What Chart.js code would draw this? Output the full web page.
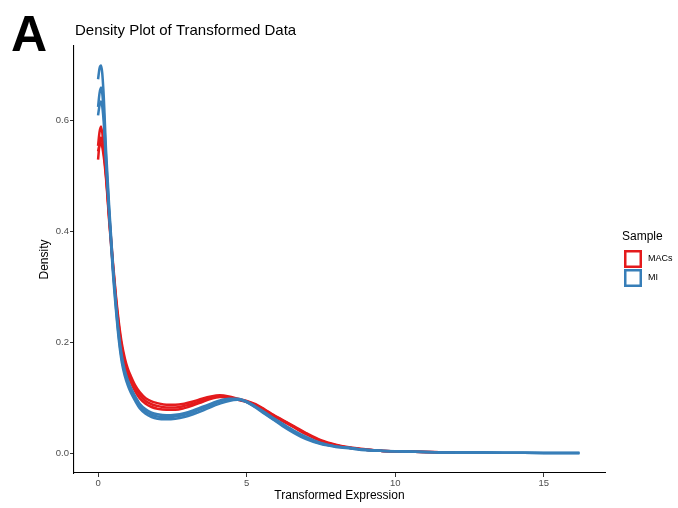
<!DOCTYPE html>
<html>
<head>
<meta charset="utf-8">
<script src="https://cdn.jsdelivr.net/npm/chart.js@4.4.1/dist/chart.umd.min.js"></script>
<style>
  html, body { margin: 0; padding: 0; background: #ffffff; }
  #wrap { width: 678px; height: 508px; position: relative; }
</style>
</head>
<body>
<div id="wrap"><canvas id="c" width="678" height="508"></canvas></div>
<script>
// ---- data ----
const panelLabel = "A";
const chartTitle = "Density Plot of Transformed Data";
const xAxisTitle = "Transformed Expression";
const yAxisTitle = "Density";
const legendTitle = "Sample";
const groups = ["MACs", "MI"];

const xTickValues = [0, 5, 10, 15];
const yTickValues = [0.0, 0.2, 0.4, 0.6];

const xGrid = [0, 0.05, 0.1, 0.18, 0.27, 0.38, 0.5, 0.6, 0.7, 0.8,
               0.9, 1.0, 1.1, 1.25, 1.4, 1.6, 1.8, 2.0, 2.3, 2.6,
               2.9, 3.2, 3.5, 3.8, 4.1, 4.4, 4.7, 5.0, 5.3, 5.6,
               5.9, 6.2, 6.6, 7.0, 7.5, 8.0, 8.5, 9.0, 9.5, 10,
               11, 12, 13, 14, 15, 16.2];

// MACs replicates (red)
const macs1 = [0.555, 0.580, 0.590, 0.560, 0.505, 0.425, 0.345, 0.285, 0.236, 0.198,
               0.172, 0.153, 0.140, 0.123, 0.111, 0.100, 0.094, 0.091, 0.088, 0.088,
               0.090, 0.094, 0.099, 0.103, 0.105, 0.103, 0.099, 0.095, 0.089, 0.080,
               0.070, 0.061, 0.049, 0.037, 0.024, 0.016, 0.011, 0.008, 0.005, 0.004,
               0.003, 0.002];
const macs2 = [0.530, 0.560, 0.570, 0.548, 0.500, 0.420, 0.340, 0.280, 0.230, 0.192,
               0.167, 0.148, 0.135, 0.118, 0.106, 0.095, 0.089, 0.086, 0.083, 0.083,
               0.086, 0.090, 0.096, 0.101, 0.103, 0.101, 0.097, 0.093, 0.087, 0.078,
               0.068, 0.059, 0.047, 0.035, 0.023, 0.015, 0.010, 0.007, 0.005, 0.004,
               0.003, 0.002];
const macs3 = [0.545, 0.556, 0.560, 0.540, 0.495, 0.415, 0.335, 0.274, 0.224, 0.186,
               0.161, 0.142, 0.129, 0.112, 0.100, 0.090, 0.084, 0.081, 0.079, 0.079,
               0.082, 0.087, 0.093, 0.099, 0.102, 0.101, 0.098, 0.094, 0.088, 0.079,
               0.069, 0.060, 0.048, 0.036, 0.023, 0.015, 0.010, 0.007, 0.005, 0.004,
               0.003, 0.002];

// MI replicates (blue)
const mi1 = [0.675, 0.695, 0.700, 0.655, 0.545, 0.440, 0.340, 0.272, 0.216, 0.176,
             0.150, 0.133, 0.119, 0.103, 0.090, 0.080, 0.074, 0.071, 0.069, 0.070,
             0.073, 0.078, 0.084, 0.090, 0.096, 0.099, 0.099, 0.093, 0.084, 0.073,
             0.062, 0.052, 0.039, 0.028, 0.018, 0.013, 0.010, 0.007, 0.005, 0.004,
             0.003, 0.002, 0.002, 0.0015, 0.001, 0.001];
const mi2 = [0.625, 0.650, 0.660, 0.625, 0.530, 0.432, 0.333, 0.266, 0.210, 0.170,
             0.145, 0.128, 0.115, 0.099, 0.086, 0.076, 0.070, 0.067, 0.066, 0.067,
             0.070, 0.075, 0.081, 0.088, 0.094, 0.098, 0.098, 0.094, 0.085, 0.075,
             0.064, 0.054, 0.041, 0.030, 0.019, 0.013, 0.010, 0.007, 0.005, 0.004,
             0.003, 0.002, 0.002, 0.0015, 0.001, 0.001];
const mi3 = [0.610, 0.628, 0.635, 0.605, 0.520, 0.425, 0.326, 0.260, 0.204, 0.164,
             0.140, 0.123, 0.110, 0.095, 0.082, 0.072, 0.066, 0.063, 0.062, 0.063,
             0.066, 0.071, 0.077, 0.084, 0.090, 0.095, 0.097, 0.093, 0.083, 0.072,
             0.061, 0.050, 0.037, 0.026, 0.017, 0.012, 0.009, 0.006, 0.005, 0.004,
             0.003, 0.002, 0.002, 0.0015, 0.001, 0.001];

const macsSeries = [macs1, macs2, macs3];
const miSeries = [mi1, mi2, mi3];

// ---- styles ----
const RED = "#E41A1C";
const BLUE = "#377EB8";
const FONT = "'Liberation Sans', Arial, Helvetica, sans-serif";

function toPoints(ys) {
  return ys.map((y, i) => ({ x: xGrid[i], y: y }));
}

const datasets = [];
macsSeries.forEach(s => datasets.push({
  label: groups[0], data: toPoints(s), borderColor: RED, borderWidth: 2.5,
  pointRadius: 0, fill: false, cubicInterpolationMode: 'monotone', order: 2
}));
miSeries.forEach(s => datasets.push({
  label: groups[1], data: toPoints(s), borderColor: BLUE, borderWidth: 2.5,
  pointRadius: 0, fill: false, cubicInterpolationMode: 'monotone', order: 1
}));

const decor = {
  id: 'decor',
  afterDraw(chart) {
    const ctx = chart.ctx;
    const ca = chart.chartArea;
    ctx.save();
    // panel label
    ctx.fillStyle = '#000';
    ctx.font = "bold 50px " + FONT;
    ctx.textBaseline = 'alphabetic';
    ctx.textAlign = 'left';
    ctx.fillText(panelLabel, 11, 51);
    // title
    ctx.font = "15px " + FONT;
    ctx.fillStyle = '#000';
    ctx.textBaseline = 'middle';
    ctx.fillText(chartTitle, 75, 31);
    // axis titles
    ctx.font = "12px " + FONT;
    ctx.textAlign = 'center';
    ctx.fillText(xAxisTitle, (ca.left + ca.right) / 2, 496);
    ctx.save();
    ctx.translate(45, (ca.top + ca.bottom) / 2);
    ctx.rotate(-Math.PI / 2);
    ctx.fillText(yAxisTitle, 0, 0);
    ctx.restore();
    // legend
    ctx.textAlign = 'left';
    ctx.font = "12px " + FONT;
    ctx.fillText(legendTitle, 622, 237);
    const colors = [RED, BLUE];
    const keyTop = [250, 269];
    const labY = [259, 278];
    groups.forEach((g, i) => {
      ctx.fillStyle = '#fff';
      ctx.fillRect(624, keyTop[i], 18, 18);
      ctx.strokeStyle = colors[i];
      ctx.lineWidth = 2.5;
      ctx.strokeRect(625.25, keyTop[i] + 1.25, 15.5, 15.5);
      ctx.fillStyle = '#000';
      ctx.font = "9px " + FONT;
      ctx.fillText(g, 648, labY[i]);
    });
    ctx.restore();
  }
};

new Chart(document.getElementById('c'), {
  type: 'line',
  data: { datasets: datasets },
  options: {
    responsive: false,
    devicePixelRatio: 1,
    animation: false,
    layout: { padding: { left: 0, top: 46, right: 73, bottom: 0 } },
    plugins: { legend: { display: false }, tooltip: { enabled: false }, title: { display: false } },
    scales: {
      x: {
        type: 'linear', min: -0.81, max: 17.06,
        afterFit(s) { s.height = 35; },
        afterBuildTicks(s) { s.ticks = xTickValues.map(v => ({ value: v })); },
        grid: { display: true, drawOnChartArea: false, drawTicks: true, tickLength: 4, tickColor: '#333333', tickWidth: 1 },
        border: { display: true, color: '#000000', width: 1.1 },
        ticks: { color: '#4D4D4D', font: { family: FONT, size: 9.5 }, padding: 1, maxRotation: 0,
                 callback: v => String(v) }
      },
      y: {
        type: 'linear', min: -0.035, max: 0.735,
        afterFit(s) { s.width = 74; },
        afterBuildTicks(s) { s.ticks = yTickValues.map(v => ({ value: v })); },
        grid: { display: true, drawOnChartArea: false, drawTicks: true, tickLength: 4, tickColor: '#333333', tickWidth: 1 },
        border: { display: true, color: '#000000', width: 1.1 },
        ticks: { color: '#4D4D4D', font: { family: FONT, size: 9.5 }, padding: 1,
                 callback: v => Number(v).toFixed(1) }
      }
    }
  },
  plugins: [decor]
});
</script>
</body>
</html>
